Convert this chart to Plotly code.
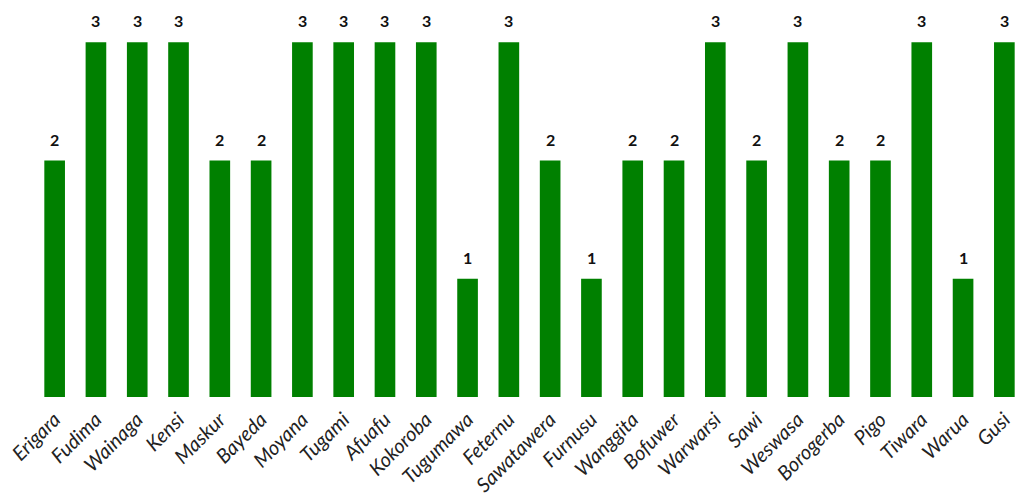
import plotly.graph_objects as go

categories = ["Erigara", "Fudima", "Wainaga", "Kensi", "Maskur", "Bayeda", "Moyana", "Tugami",
              "Afuafu", "Kokoroba", "Tugumawa", "Feternu", "Sawatawera", "Furnusu", "Wanggita",
              "Bofuwer", "Warwarsi", "Sawi", "Weswasa", "Borogerba", "Pigo", "Tiwara", "Warua", "Gusi"]
values = [2, 3, 3, 3, 2, 2, 3, 3, 3, 3, 1, 3, 2, 1, 2, 2, 3, 2, 3, 2, 2, 3, 1, 3]

fig = go.Figure(go.Bar(
    x=categories, y=values,
    marker=dict(color="#008000", line=dict(width=0)),
))
for c, v in zip(categories, values):
    fig.add_annotation(x=c, y=v, text=str(v), showarrow=False, yanchor="bottom", yshift=10,
                       font=dict(family="Lato", size=16, color="#111111", weight="bold"))
fig.update_layout(
    width=1024, height=501,
    margin=dict(l=26, r=7, t=0, b=112),
    paper_bgcolor="white", plot_bgcolor="white",
    bargap=0.5, showlegend=False,
    xaxis=dict(tickangle=-45, showgrid=False, showline=False, ticks="", automargin=False,
               ticklabelstandoff=6,
               tickfont=dict(family="Lato", size=20, color="#222222", style="italic")),
    yaxis=dict(range=[0, 3.29], visible=False, automargin=False),
)
fig.write_html("out.html")
